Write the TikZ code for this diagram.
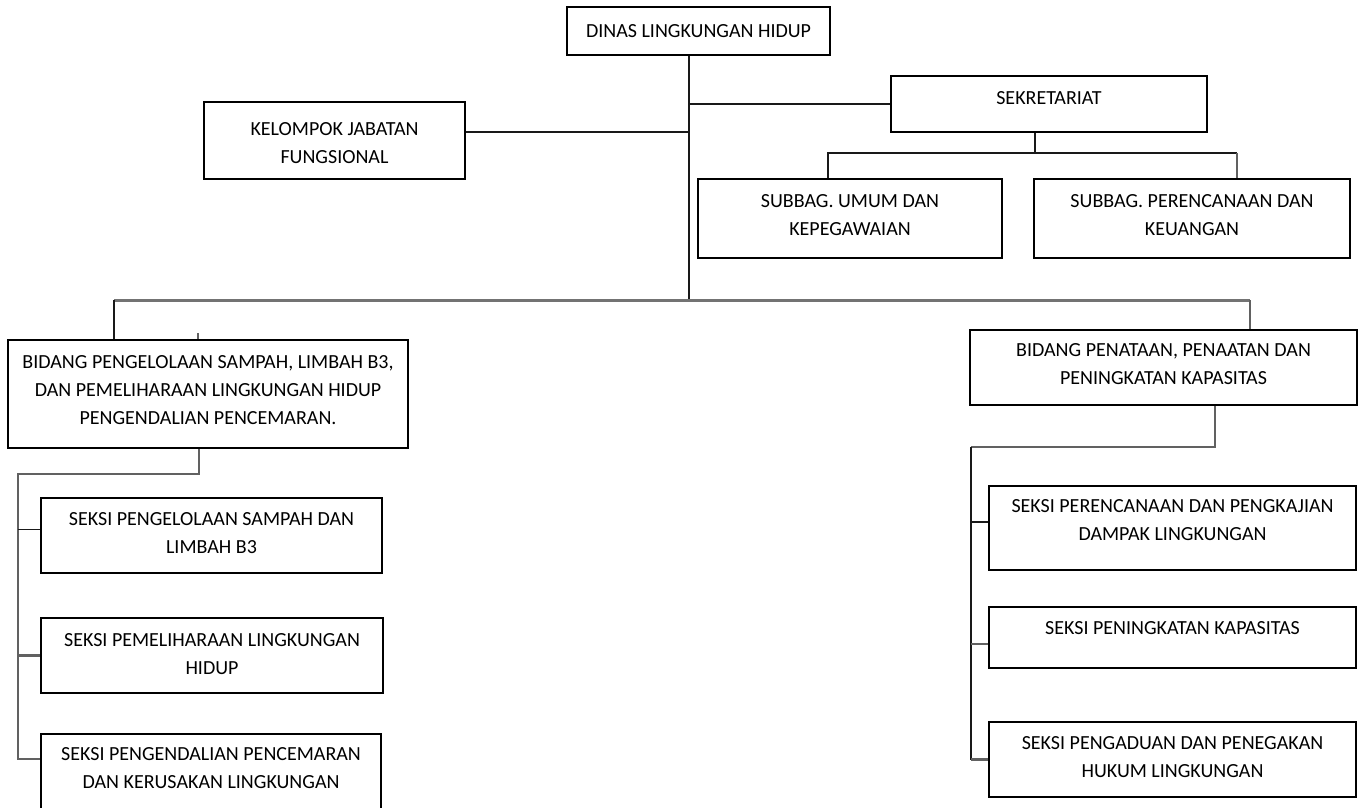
\documentclass[tikz,border=0pt]{standalone}
\usepackage{fontspec}
\setmainfont{Carlito}
\usetikzlibrary{positioning}

\tikzset{
  box/.style={draw, line width=1.5pt, inner sep=0pt},
  txt/.style={align=center, inner sep=0pt, text=black, font=\fontsize{20}{28}\selectfont},
  line/.style={draw=black!90, line width=1.5pt},
  gline/.style={draw=black!62, line width=2.2pt},
  bus/.style={draw=black!55, line width=3pt}
}

\begin{document}
\begin{tikzpicture}[x=1pt, y=-1pt]
\fill[white] (0,0) rectangle (1361,807);
\useasboundingbox (0,0) rectangle (1361,807);

% boxes
\node[box, minimum width=263, minimum height=48] (dinas) at (698.5,31) {};
\node[box, minimum width=316, minimum height=56] (sekretariat) at (1049,104) {};
\node[box, minimum width=261, minimum height=77] (kelompok) at (334.5,140.5) {};
\node[box, minimum width=304, minimum height=79] (subbagA) at (850,218.5) {};
\node[box, minimum width=316, minimum height=79] (subbagB) at (1192,218.5) {};
\node[box, minimum width=400, minimum height=108] (bidangL) at (208,394) {};
\node[box, minimum width=387, minimum height=75] (bidangR) at (1163.5,367.5) {};
\node[box, minimum width=341, minimum height=75] (seksiL1) at (211.5,535.5) {};
\node[box, minimum width=342, minimum height=75] (seksiL2) at (212,655.5) {};
\node[box, minimum width=340, minimum height=75] (seksiL3) at (211,771.5) {};
\node[box, minimum width=367, minimum height=84] (seksiR1) at (1172.5,528) {};
\node[box, minimum width=367, minimum height=61] (seksiR2) at (1172.5,637.5) {};
\node[box, minimum width=367, minimum height=75] (seksiR3) at (1172.5,759.5) {};

% texts
\node[txt, below=18pt of dinas.north] (dinas-t) {DINAS LINGKUNGAN HIDUP};
\node[txt, below=16pt of sekretariat.north] (sekretariat-t) {SEKRETARIAT};
\node[txt, below=21pt of kelompok.north] (kelompok-t) {KELOMPOK JABATAN\\FUNGSIONAL};
\node[txt, below=16pt of subbagA.north] (subbagA-t) {SUBBAG. UMUM DAN\\KEPEGAWAIAN};
\node[txt, below=16pt of subbagB.north] (subbagB-t) {SUBBAG. PERENCANAAN DAN\\KEUANGAN};
\node[txt, below=16pt of bidangL.north] (bidangL-t) {BIDANG PENGELOLAAN SAMPAH, LIMBAH B3,\\DAN PEMELIHARAAN LINGKUNGAN HIDUP\\PENGENDALIAN PENCEMARAN.};
\node[txt, below=14pt of bidangR.north] (bidangR-t) {BIDANG PENATAAN, PENAATAN DAN\\PENINGKATAN KAPASITAS};
\node[txt, below=15pt of seksiL1.north] (seksiL1-t) {SEKSI PENGELOLAAN SAMPAH DAN\\LIMBAH B3};
\node[txt, below=16pt of seksiL2.north] (seksiL2-t) {SEKSI PEMELIHARAAN LINGKUNGAN\\HIDUP};
\node[txt, below=14pt of seksiL3.north] (seksiL3-t) {SEKSI PENGENDALIAN PENCEMARAN\\DAN KERUSAKAN LINGKUNGAN};
\node[txt, below=14pt of seksiR1.north] (seksiR1-t) {SEKSI PERENCANAAN DAN PENGKAJIAN\\DAMPAK LINGKUNGAN};
\node[txt, below=15pt of seksiR2.north] (seksiR2-t) {SEKSI PENINGKATAN KAPASITAS};
\node[txt, below=15pt of seksiR3.north] (seksiR3-t) {SEKSI PENGADUAN DAN PENEGAKAN\\HUKUM LINGKUNGAN};

% junctions
\coordinate (trunk) at (689,300);
\coordinate (sekbus) at (1035,153);
\coordinate (sekL) at (828,153);
\coordinate (sekR) at (1237,153);
\coordinate (busL) at (114,300);
\coordinate (busR) at (1250,300);
\coordinate (tick) at (198,333);
\coordinate (lsplit) at (199,474);
\coordinate (lrail) at (18,474);
\coordinate (rsplit) at (1215,447);
\coordinate (rrail) at (971,447);
\coordinate (kel) at ([yshift=8.5pt]kelompok.east);
\coordinate (l1) at ([yshift=6pt]seksiL1.west);
\coordinate (l3) at ([yshift=12.5pt]seksiL3.west);
\coordinate (r1) at ([yshift=6pt]seksiR1.west);
\coordinate (r2) at ([yshift=-6.5pt]seksiR2.west);

% connectors
\draw[line] (dinas.south -| trunk) -- (trunk);
\draw[line] (sekretariat.west) -- (sekretariat.west -| trunk);
\draw[line] (kel) -- (kel -| trunk);
\draw[line] (sekretariat.south -| sekbus) -- (sekbus);
\draw[line] (subbagA.north -| sekL) -- (sekL) -- (sekR);
\draw[gline] (sekR) -- (subbagB.north -| sekR);
\draw[bus] (busL) -- (busR);
\draw[line] (busL) -- (bidangL.north -| busL);
\draw[gline] (busR) -- (bidangR.north -| busR);
\draw[gline] (tick) -- (bidangL.north -| tick);
\draw[gline] (bidangL.south -| lsplit) -- (lsplit) -- (lrail) -- (lrail |- l3) -- (l3);
\draw[line] (lrail |- l1) -- (l1);
\draw[gline] (lrail |- seksiL2.west) -- (seksiL2.west);
\draw[gline] (bidangR.south -| rsplit) -- (rsplit) -- (rrail);
\draw[line] (rrail) -- (rrail |- seksiR3.west);
\draw[line] (rrail |- r1) -- (r1);
\draw[gline] (rrail |- r2) -- (r2);
\draw[gline] (rrail |- seksiR3.west) -- (seksiR3.west);
\end{tikzpicture}
\end{document}
